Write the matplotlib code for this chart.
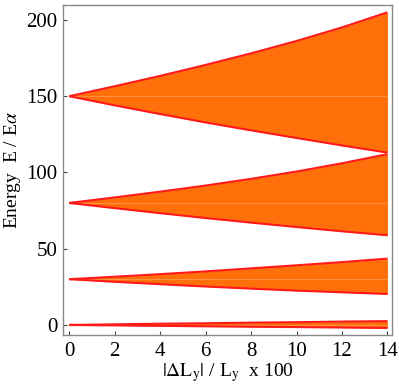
import matplotlib
matplotlib.use("Agg")
import matplotlib.pyplot as plt
import numpy as np

plt.rcParams['font.family'] = ['Liberation Serif', 'DejaVu Serif']
plt.rcParams['mathtext.fontset'] = 'stix'

# |dLy|/Ly x 100
strain = [0, 2, 4, 6, 8, 10, 12, 14]

# band edges (upper / lower) for each level
band0_hi = [0, 0.4, 0.8, 1.1, 1.5, 1.8, 2.2, 2.5]
band0_lo = [0, -0.3, -0.6, -0.9, -1.2, -1.4, -1.7, -2.0]
band1_hi = [30, 31.6, 33.3, 35.1, 37.1, 39.1, 41.2, 43.5]
band1_lo = [30, 28.3, 26.7, 25.2, 23.8, 22.5, 21.4, 20.3]
band2_hi = [80, 83.6, 87.4, 91.4, 95.8, 100.6, 106.0, 112.0]
band2_lo = [80, 76.6, 73.3, 70.1, 67.1, 64.2, 61.4, 58.8]
band3_hi = [150, 156.5, 163.3, 170.5, 178.1, 186.2, 195.1, 205.0]
band3_lo = [150, 144.0, 138.3, 132.8, 127.6, 122.6, 117.7, 113.0]
centers = [0, 30, 80, 150]

bands = [(band0_lo, band0_hi), (band1_lo, band1_hi),
         (band2_lo, band2_hi), (band3_lo, band3_hi)]

fig = plt.figure(figsize=(3.99, 3.89), dpi=100)
ax = fig.add_axes([63/399, 1 - 335/389, (392-63)/399, (335-5)/389])

fill_c = '#ff700a'
edge_c = '#ff1a1a'
for (lo, hi), c in zip(bands, centers):
    ax.fill_between(strain, lo, hi, color=fill_c, lw=0)
    ax.plot([strain[0], strain[-1]], [c, c], color='#ff9040', lw=0.8)
    ax.plot(strain, hi, color=edge_c, lw=1.5, solid_capstyle='butt')
    ax.plot(strain, lo, color=edge_c, lw=1.5, solid_capstyle='butt')

ax.set_xlim(-0.27, 14.2)
ax.set_ylim(-6.6, 209.8)
ax.set_xticks(range(0, 15, 2))
ax.set_yticks([0, 50, 100, 150, 200])
ax.tick_params(direction='in', length=3, width=0.8, color='#444444',
               labelsize=15)
ax.tick_params(axis='x', pad=5)
ax.tick_params(axis='y', pad=4)
for s in ax.spines.values():
    s.set_color('#888888')
    s.set_linewidth(1.0)

ax.set_ylabel(r'Energy  E / E$\alpha$', fontsize=14, labelpad=2)
ax.set_xlabel(r'$|\Delta \mathrm{L}_{\mathrm{y}}|$ / L$_{\mathrm{y}}$  x 100',
              fontsize=14, labelpad=0)

fig.savefig('out.png', dpi=100)
